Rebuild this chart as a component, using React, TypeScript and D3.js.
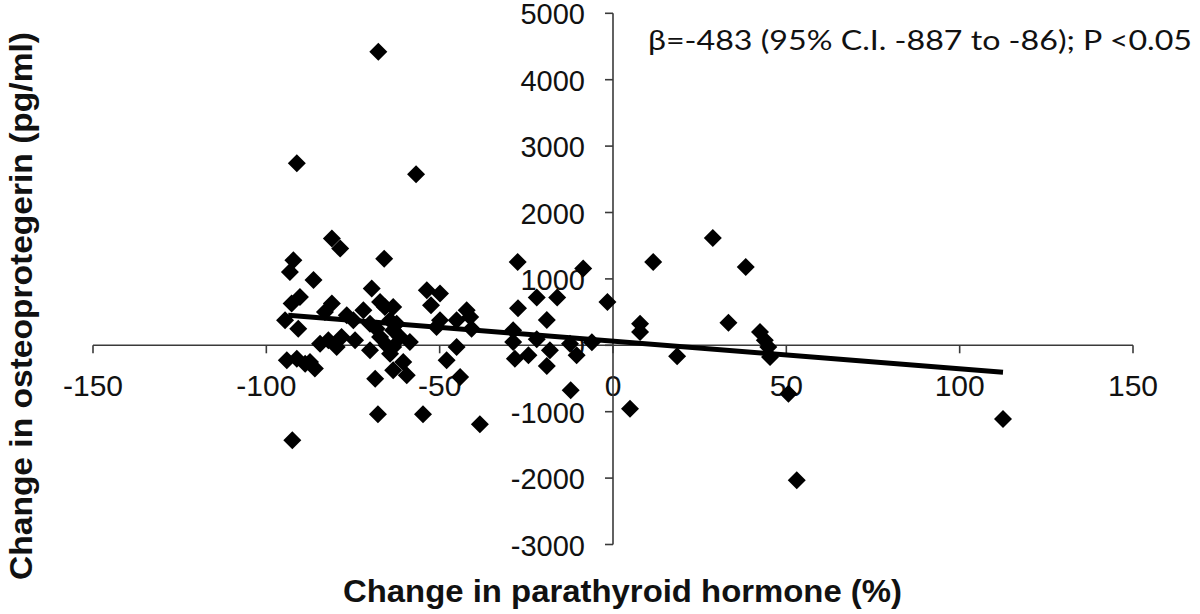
import React from "react";
import * as d3 from "d3";

// Change in parathyroid hormone (%)
const pthChange: number[] = [
  -67.7, -91.2, -56.8, -81.1, -78.7, -92.2, -93.2, -86.4, -66, -69.6,
  -53.7, -49.9, -52.5, -90.3, -92.7, -67.2, -65.8, -81.1, -83.1, -76.8,
  -72, -94.6, -90.8, -74.9, -70.1, -68.2, -64.3, -63.4, -84.5, -82.1,
  -79.7, -78.3, -74.4, -70.1, -67.2, -64.3, -65.3, -94.1, -91.2, -88.8,
  -86, -87.4, -68.6, -63.4, -42.2, -41.2, -49.9, -45.1, -40.8, -50.9,
  -63.4, -62.4, -61.4, -63.4, -58.6, -60.5, -45.1, -48, -59.5, -44.1,
  -28.8, -28.8, -28.3, -27.5, -8.6, -22, -16.1, -1.6, -27.4, -19.1,
  -22, -12.4, -6.1, -24.4, -18.2, -19.1, -10.5, -12.2, -38.4, -67.8,
  -54.8, -92.5, 4.9, 11.6, 28.8, 38.3, 33.3, 7.8, 7.8, 18.5,
  42.4, 43.8, 44.8, 45.3, 50.6, 53, 112.5,
];

// Change in osteoprotegerin (pg/ml)
const opgChange: number[] = [
  4420, 2740, 2575, 1607, 1456, 1280, 1104, 985, 1305, 854,
  828, 779, 602, 727, 628, 652, 577, 628, 502, 452,
  527, 377, 251, 377, 326, 251, 377, 226, 25, 75,
  -25, 126, 75, -75, 126, -126, 0, -226, -201, -276,
  -351, -251, -502, -377, 527, 427, 377, 377, 251, 276,
  577, 326, 126, -25, 50, -251, -25, -226, -452, -477,
  226, 50, -201, 1255, 1155, 720, 720, 652, 557, 380,
  90, 25, 45, -151, -75, -310, -151, -678, -1190, -1039,
  -1039, -1431, -954, 1255, 1616, 1179, 341, 326, 201, -166,
  201, 75, -25, -176, -728, -2033, -1110,
];

// Regression line end points
const trendX: number[] = [-93.7, 112.5];
const trendY: number[] = [452, -407];

const xTicks: number[] = [-150, -100, -50, 0, 50, 100, 150];
const yTicks: number[] = [-3000, -2000, -1000, 0, 1000, 2000, 3000, 4000, 5000];

const annotation = "β=-483 (95% C.I. -887 to -86); P <0.05";
const xTitle = "Change in parathyroid hormone (%)";
const yTitle = "Change in osteoprotegerin (pg/ml)";

export default function App() {
  const W = 1200;
  const H = 614;
  const x = d3.scaleLinear().domain([-150, 150]).range([93, 1133]);
  const y = d3.scaleLinear().domain([-3000, 5000]).range([544.5, 13.3]);
  const x0 = x(0);
  const y0 = y(0);
  const axisColor = "#3a3a3a";
  const font = "'Liberation Sans', Arial, sans-serif";
  const h = 9;
  const line = d3
    .line<number>()
    .x((d, i) => x(trendX[i]))
    .y((d, i) => y(trendY[i]));

  return (
    <svg
      width={W}
      height={H}
      style={{ position: "absolute", left: 0, top: 0, background: "#fff" }}
    >
      <rect x={0} y={0} width={W} height={H} fill="#fff" />
      {/* x axis */}
      <line x1={x(-150)} x2={x(150)} y1={y0} y2={y0} stroke={axisColor} strokeWidth={1.6} />
      {xTicks.map((t) => (
        <g key={"xt" + t}>
          <line x1={x(t)} x2={x(t)} y1={y0} y2={y0 + 8} stroke={axisColor} strokeWidth={1.6} />
          <text
            x={x(t)}
            y={396}
            textAnchor="middle"
            fontFamily={font}
            fontSize={30}
            fill="#111"
          >
            {t}
          </text>
        </g>
      ))}
      {/* y axis */}
      <line x1={x0} x2={x0} y1={y(5000)} y2={y(-3000)} stroke={axisColor} strokeWidth={1.6} />
      {yTicks.map((t) => (
        <g key={"yt" + t}>
          <line x1={x0 - 8} x2={x0} y1={y(t)} y2={y(t)} stroke={axisColor} strokeWidth={1.6} />
          <text
            x={585}
            y={y(t) + 11}
            textAnchor="end"
            fontFamily={font}
            fontSize={29}
            fill="#111"
          >
            {t}
          </text>
        </g>
      ))}
      {/* points */}
      {pthChange.map((v, i) => {
        const cx = x(v);
        const cy = y(opgChange[i]);
        return (
          <path
            key={"p" + i}
            d={`M${cx},${cy - h}L${cx + h},${cy}L${cx},${cy + h}L${cx - h},${cy}Z`}
            fill="#000"
          />
        );
      })}
      {/* trend line */}
      <path d={line(trendX) || ""} stroke="#000" strokeWidth={5} fill="none" />
      {/* annotation */}
      <text
        x={648}
        y={50}
        fontFamily="Lato, 'Open Sans', sans-serif"
        fontSize={26}
        fill="#111"
        textLength={544}
        lengthAdjust="spacingAndGlyphs"
      >
        {annotation}
      </text>
      {/* axis titles */}
      <text
        x={343}
        y={602}
        fontFamily={font}
        fontWeight="bold"
        fontSize={31}
        fill="#111"
        textLength={559}
        lengthAdjust="spacingAndGlyphs"
      >
        {xTitle}
      </text>
      <text
        transform={`translate(32,580) rotate(-90)`}
        x={0}
        y={0}
        fontFamily={font}
        fontWeight="bold"
        fontSize={31}
        fill="#111"
        textLength={548}
        lengthAdjust="spacingAndGlyphs"
      >
        {yTitle}
      </text>
    </svg>
  );
}
